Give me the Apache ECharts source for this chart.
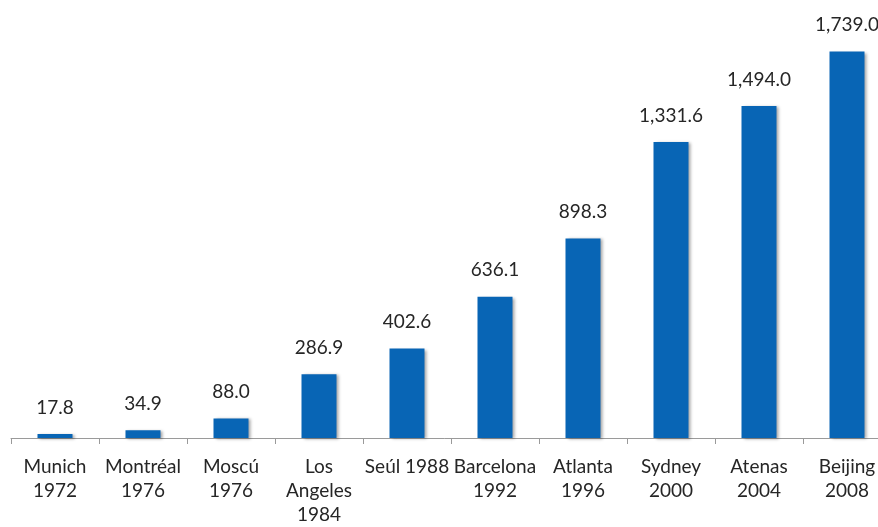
<!DOCTYPE html>
<html>
<head>
<meta charset="utf-8">
<script src="https://cdn.jsdelivr.net/npm/echarts@6/dist/echarts.min.js"></script>
<style>html,body{margin:0;padding:0;background:#fff;}#c{width:878px;height:527px;}</style>
</head>
<body>
<div id="c"></div>
<script>
var categories = ['Munich\n1972', 'Montréal\n1976', 'Moscú\n1976', 'Los\nAngeles\n1984', 'Seúl 1988', 'Barcelona\n1992', 'Atlanta\n1996', 'Sydney\n2000', 'Atenas\n2004', 'Beijing\n2008'];
var values = [17.8, 34.9, 88.0, 286.9, 402.6, 636.1, 898.3, 1331.6, 1494.0, 1739.0];

var chart = echarts.init(document.getElementById('c'));
chart.setOption({
  animation: false,
  grid: { left: 11, width: 880, top: 38, height: 400, containLabel: false, outerBoundsMode: 'none' },
  xAxis: {
    type: 'category',
    data: categories,
    axisLine: { lineStyle: { color: '#9a9a9a', width: 1 } },
    axisTick: { show: true, length: 6, lineStyle: { color: '#9a9a9a' } },
    axisLabel: { interval: 0, color: '#262626', fontFamily: 'Lato', fontSize: 19, lineHeight: 24, margin: 17 }
  },
  yAxis: {
    type: 'value', min: 0, max: 1800,
    show: false, splitLine: { show: false }
  },
  series: [{
    type: 'bar',
    data: values,
    barWidth: 35,
    itemStyle: { color: '#0865B5', shadowBlur: 3, shadowOffsetX: 2, shadowOffsetY: 1, shadowColor: 'rgba(0,0,0,0.35)' },
    label: {
      show: true, position: 'top', distance: 17,
      color: '#262626', fontFamily: 'Lato', fontSize: 19,
      formatter: function (p) {
        return p.value.toLocaleString('en-US', { minimumFractionDigits: 1, maximumFractionDigits: 1 });
      }
    }
  }]
});
</script>
</body>
</html>
